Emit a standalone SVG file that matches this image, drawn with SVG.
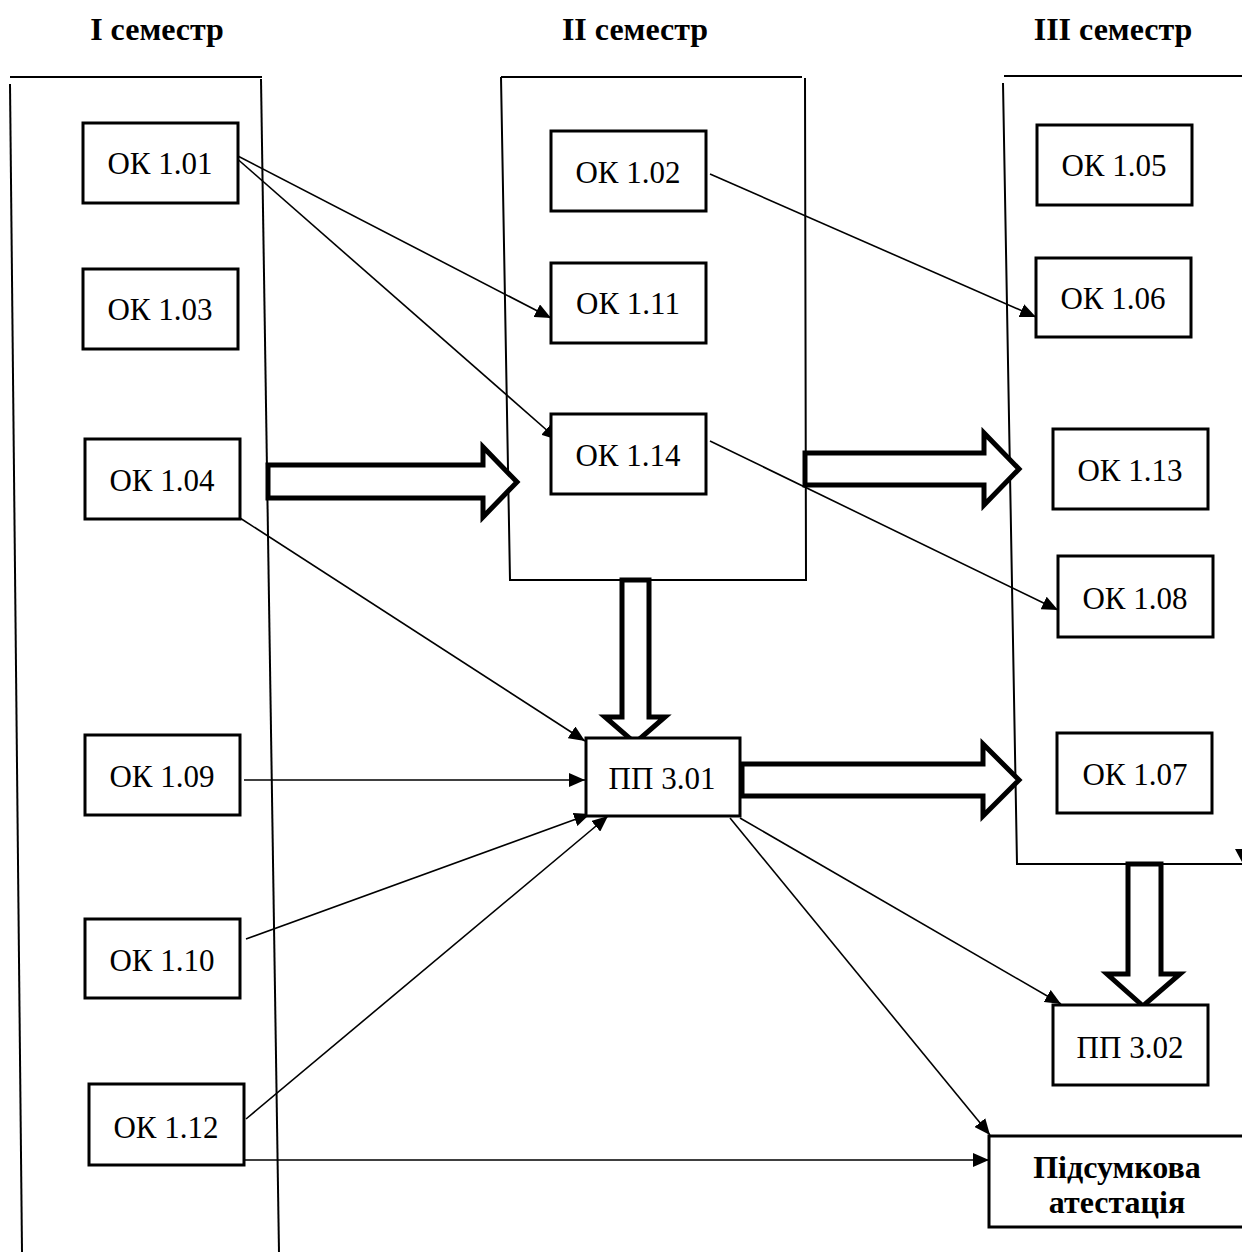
<svg xmlns="http://www.w3.org/2000/svg" width="1242" height="1252" viewBox="0 0 1242 1252">
<style>
.box{fill:#fff;stroke:#000;stroke-width:3}
.lbl{font-family:"Liberation Serif","Times New Roman",serif;font-size:31px;text-anchor:middle;fill:#000}
.ttl{font-family:"Liberation Serif","Times New Roman",serif;font-size:32px;font-weight:bold;text-anchor:middle;fill:#000}
.bld{font-family:"Liberation Serif","Times New Roman",serif;font-size:32px;font-weight:bold;text-anchor:middle;fill:#000}
.col{fill:none;stroke:#000;stroke-width:2}
.con{fill:none;stroke:#000;stroke-width:1.6;marker-end:url(#ah)}
.big{fill:#fff;stroke:#000;stroke-width:5;stroke-linejoin:miter}
</style>
<defs>
<marker id="ah" viewBox="0 0 16 14" refX="16" refY="7" markerWidth="16" markerHeight="14" markerUnits="userSpaceOnUse" orient="auto">
<path d="M0,0 L16,7 L0,14 z" fill="#000"/>
</marker>
</defs>
<rect width="1242" height="1252" fill="#fff"/>
<g id="titles">
<text class="ttl" x="157" y="40">I семестр</text>
<text class="ttl" x="635" y="40">II семестр</text>
<text class="ttl" x="1113" y="40">III семестр</text>
</g>
<g id="semester1">
<line class="col" x1="10" y1="77" x2="262" y2="77"/>
<line class="col" x1="10" y1="84" x2="22" y2="1252"/>
<line class="col" x1="261" y1="79" x2="279" y2="1252"/>
</g>
<g id="semester2">
<line class="col" x1="501" y1="77" x2="802" y2="77"/>
<polyline class="col" points="501,77 510,580 806,580 805,78"/>
</g>
<g id="semester3">
<line class="col" x1="1004" y1="76" x2="1242" y2="76"/>
<polyline class="col" points="1003,83 1017,864 1242,864"/>
<polygon points="1235,849 1242,849 1242,862" fill="#000"/>
</g>
<g id="connectors">
<line class="con" x1="234" y1="154" x2="551" y2="318"/>
<line class="con" x1="234" y1="156" x2="558" y2="440"/>
<line class="con" x1="710" y1="174" x2="1036" y2="317"/>
<line class="con" x1="710" y1="441" x2="1058" y2="610"/>
<line class="con" x1="240" y1="518" x2="585" y2="741"/>
<line class="con" x1="244" y1="780" x2="585" y2="780"/>
<line class="con" x1="246" y1="939" x2="590" y2="814"/>
<line class="con" x1="246" y1="1119" x2="608" y2="816"/>
<line class="con" x1="244" y1="1160" x2="989" y2="1160"/>
<line class="con" x1="730" y1="818" x2="990" y2="1135"/>
<line class="con" x1="740" y1="818" x2="1061" y2="1004"/>
<polygon class="big" points="268,465 483,465 483,447 517,482 483,517 483,498 268,498"/>
<polygon class="big" points="805,453 984,453 984,433 1019,469 984,505 984,485 805,485"/>
<polygon class="big" points="742,764 983,764 983,744 1019,780 983,816 983,796 742,796"/>
<polygon class="big" points="622,580 649,580 649,717 665,717 635,743 605,717 622,717"/>
<polygon class="big" points="1128,864 1161,864 1161,974 1180,974 1143,1006 1107,974 1128,974"/>
</g>
<g id="ok101"><rect class="box" x="83" y="123" width="155" height="80"/><text class="lbl" x="160" y="174">ОК 1.01</text></g>
<g id="ok103"><rect class="box" x="83" y="269" width="155" height="80"/><text class="lbl" x="160" y="320">ОК 1.03</text></g>
<g id="ok104"><rect class="box" x="85" y="439" width="155" height="80"/><text class="lbl" x="162" y="491">ОК 1.04</text></g>
<g id="ok109"><rect class="box" x="85" y="735" width="155" height="80"/><text class="lbl" x="162" y="787">ОК 1.09</text></g>
<g id="ok110"><rect class="box" x="85" y="919" width="155" height="79"/><text class="lbl" x="162" y="971">ОК 1.10</text></g>
<g id="ok112"><rect class="box" x="89" y="1084" width="155" height="81"/><text class="lbl" x="166" y="1138">ОК 1.12</text></g>
<g id="ok102"><rect class="box" x="551" y="131" width="155" height="80"/><text class="lbl" x="628" y="183">ОК 1.02</text></g>
<g id="ok111"><rect class="box" x="551" y="263" width="155" height="80"/><text class="lbl" x="628" y="314">ОК 1.11</text></g>
<g id="ok114"><rect class="box" x="551" y="414" width="155" height="80"/><text class="lbl" x="628" y="466">ОК 1.14</text></g>
<g id="ok105"><rect class="box" x="1037" y="125" width="155" height="80"/><text class="lbl" x="1114" y="176">ОК 1.05</text></g>
<g id="ok106"><rect class="box" x="1036" y="258" width="155" height="79"/><text class="lbl" x="1113" y="309">ОК 1.06</text></g>
<g id="ok113"><rect class="box" x="1053" y="429" width="155" height="80"/><text class="lbl" x="1130" y="481">ОК 1.13</text></g>
<g id="ok108"><rect class="box" x="1058" y="556" width="155" height="81"/><text class="lbl" x="1135" y="609">ОК 1.08</text></g>
<g id="ok107"><rect class="box" x="1057" y="733" width="155" height="80"/><text class="lbl" x="1135" y="785">ОК 1.07</text></g>
<g id="pp301"><rect class="box" x="586" y="738" width="154" height="78"/><text class="lbl" x="662" y="789">ПП 3.01</text></g>
<g id="pp302"><rect class="box" x="1053" y="1005" width="155" height="80"/><text class="lbl" x="1130" y="1058">ПП 3.02</text></g>
<g id="final"><rect class="box" x="989" y="1136" width="256" height="91"/><text class="bld" x="1117" y="1178">Підсумкова</text><text class="bld" x="1117" y="1213">атестація</text></g>
</svg>
